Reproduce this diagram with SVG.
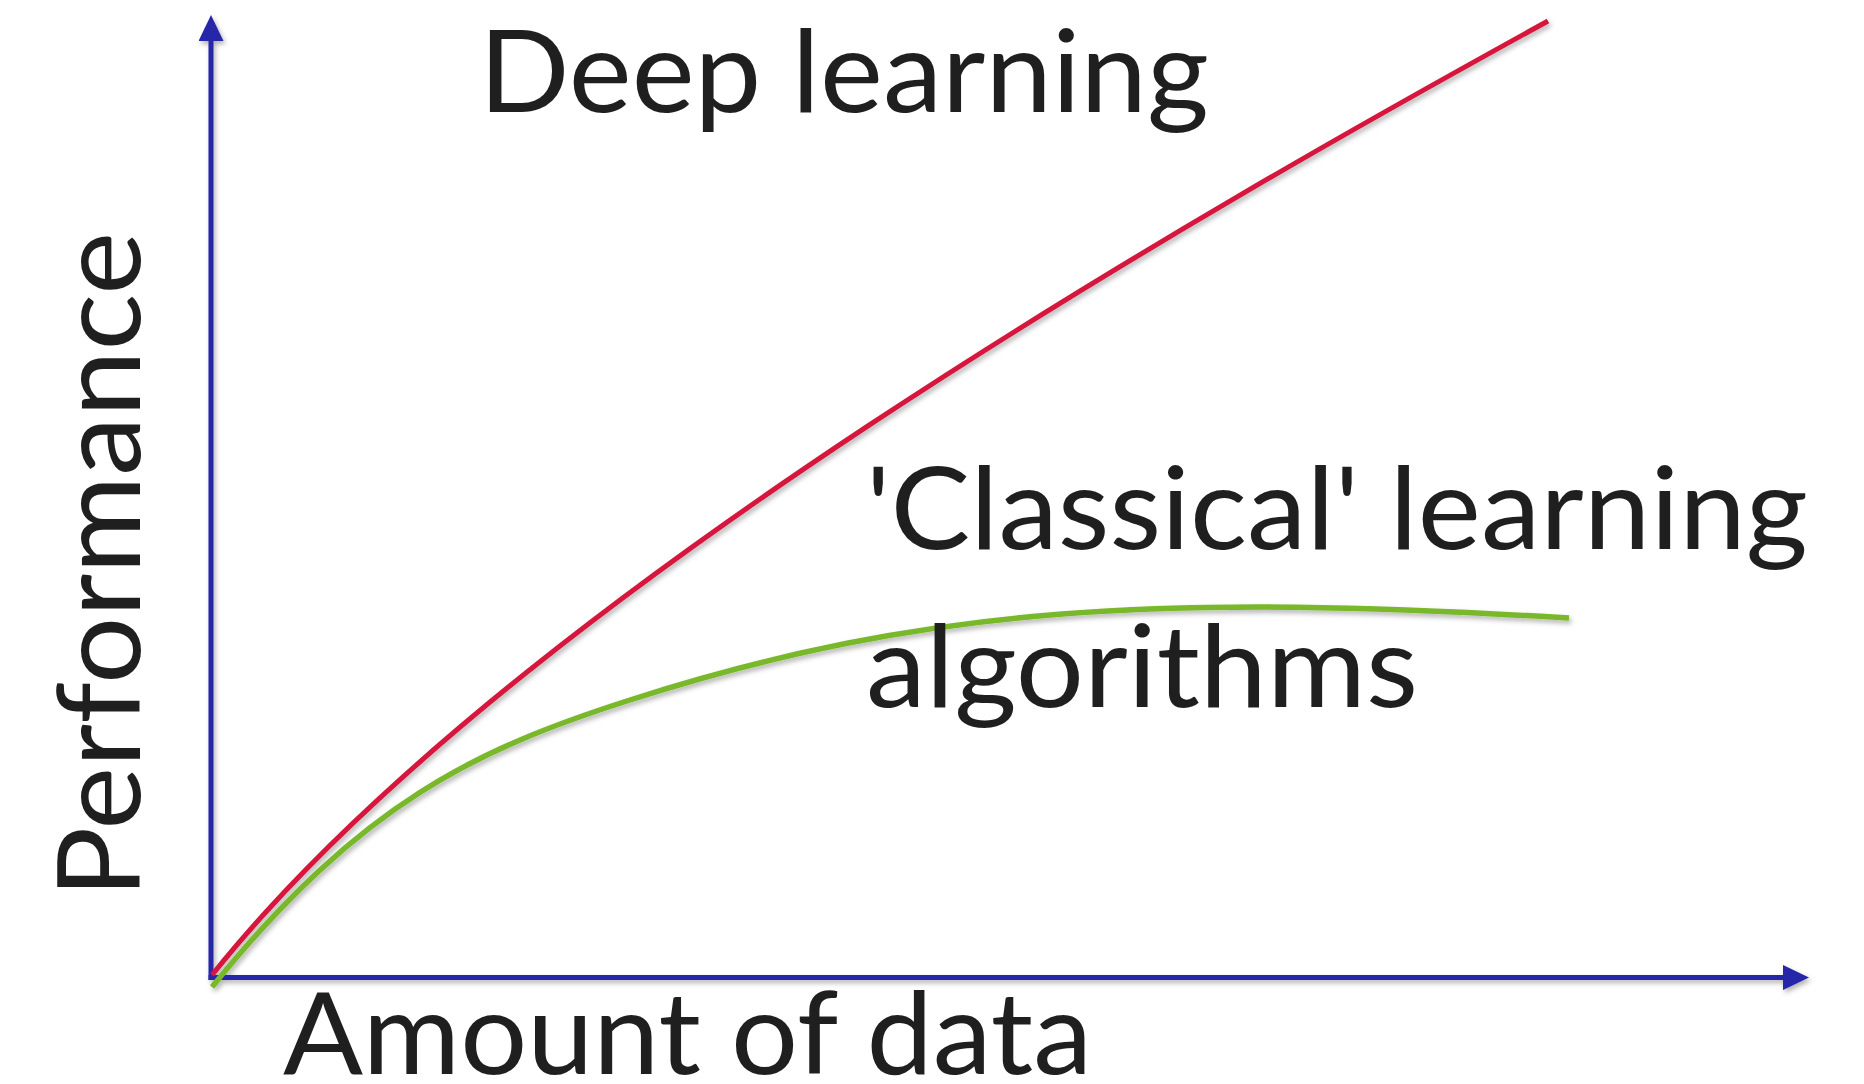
<svg xmlns="http://www.w3.org/2000/svg" width="1864" height="1084" viewBox="0 0 1864 1084">
<style>
.lbl{font-family:Lato,"Open Sans","Liberation Sans",sans-serif;font-size:114px;fill:#1f1f1f}
.axis{stroke:#2626a8;stroke-width:5;fill:none}
.curve{fill:none;stroke-linecap:butt}
</style>
<defs>
<filter id="sh" x="-5%" y="-5%" width="110%" height="110%">
<feDropShadow dx="2" dy="3" stdDeviation="2.5" flood-color="#000" flood-opacity="0.3"/>
</filter>
<marker id="arr" markerUnits="userSpaceOnUse" markerWidth="27" markerHeight="26" refX="0" refY="12.5" orient="auto">
<path d="M0,0 L26,12.5 L0,25 Z" fill="#2626a8"/>
</marker>
</defs>
<rect width="1864" height="1084" fill="#fff"/>
<g id="connectors" filter="url(#sh)">
<line id="y-axis" class="axis" x1="211" y1="980" x2="211" y2="41" marker-end="url(#arr)"/>
<line id="x-axis" class="axis" x1="208.5" y1="977.5" x2="1783" y2="977.5" marker-end="url(#arr)"/>
<path id="deep-curve" class="curve" d="M212,975 C512,600 1218,202.5 1548,21" stroke="#d6143c" stroke-width="5"/>
<path id="classical-curve" class="curve" d="M212,987 C362,801 480,748 630,700 C930,604 1169,594 1569,618" stroke="#78b82a" stroke-width="5.5"/>
</g>
<g id="label-deep"><text class="lbl" x="479" y="112" textLength="730" lengthAdjust="spacingAndGlyphs">Deep learning</text></g>
<g id="label-performance"><text class="lbl" transform="translate(140,898) rotate(-90)" x="0" y="0" textLength="666" lengthAdjust="spacingAndGlyphs">Performance</text></g>
<g id="label-amount"><text class="lbl" x="283" y="1074" textLength="809" lengthAdjust="spacingAndGlyphs">Amount of data</text></g>
<g id="label-classical">
<text class="lbl" x="866" y="549" textLength="942" lengthAdjust="spacingAndGlyphs">'Classical' learning</text>
<text class="lbl" x="866" y="707" textLength="552" lengthAdjust="spacingAndGlyphs">algorithms</text>
</g>
</svg>
